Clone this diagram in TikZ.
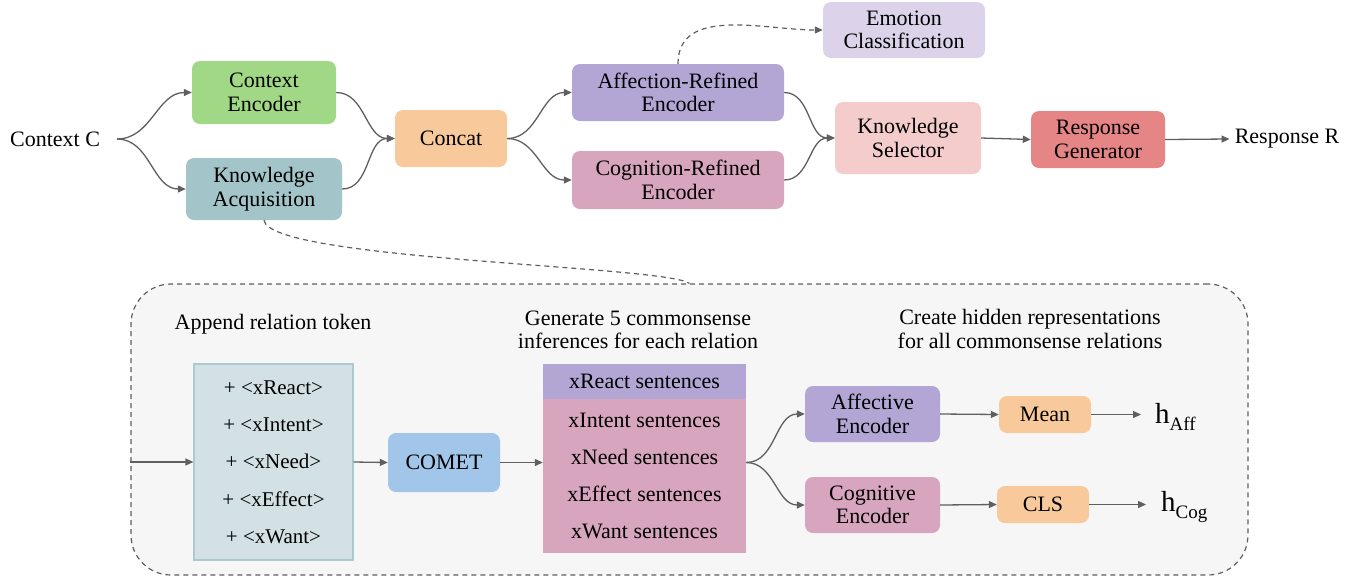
\documentclass[tikz,border=0pt]{standalone}
\usepackage{fontspec}
\setmainfont{Liberation Serif}
\usetikzlibrary{arrows.meta}
\definecolor{cgreen}{HTML}{A0D886}
\definecolor{cteal}{HTML}{A3C4C9}
\definecolor{corange}{HTML}{F8C99A}
\definecolor{cpurple}{HTML}{B3A6D5}
\definecolor{cpink}{HTML}{D8A5BF}
\definecolor{clav}{HTML}{DCD3EA}
\definecolor{clpink}{HTML}{F4CCCC}
\definecolor{cred}{HTML}{E58585}
\definecolor{cblue}{HTML}{A1C6EA}
\definecolor{crel}{HTML}{D3E1E4}
\definecolor{crelb}{HTML}{A9CBD0}
\definecolor{cbg}{HTML}{F6F6F6}
\definecolor{lc}{HTML}{5F5F5F}
\begin{document}
\begin{tikzpicture}[x=1pt,y=1pt,
  font=\fontsize{22}{23.5}\selectfont,
  box/.style={rounded corners=8pt, align=center, inner sep=0pt},
  arr/.style={draw=lc, line width=1.3pt, -{Triangle[length=8pt,width=7pt]}},
  dline/.style={draw=lc, line width=1.2pt, dash pattern=on 5pt off 4pt},
  lbl/.style={align=center, inner sep=0pt}]
\useasboundingbox (0,0) rectangle (1365,-582);

% top row
\node[lbl] (ctx) at (55,-139) {Context C};
\coordinate (c0) at (117,-139);
\node[box, fill=cgreen, minimum width=144pt, minimum height=63pt] (ce) at (264,-92.5) {Context\\Encoder};
\node[box, fill=cteal, minimum width=156pt, minimum height=62pt] (ka) at (264,-189) {Knowledge\\Acquisition};
\node[box, fill=corange, minimum width=112pt, minimum height=57pt] (cc) at (451,-138.5) {Concat};
\node[box, fill=cpurple, minimum width=212pt, minimum height=57pt] (are) at (678,-92.5) {Affection-Refined\\Encoder};
\node[box, fill=cpink, minimum width=212pt, minimum height=58pt] (cre) at (678,-180) {Cognition-Refined\\Encoder};
\node[box, fill=clav, minimum width=162pt, minimum height=56pt] (ec) at (904,-30) {Emotion\\Classification};
\node[box, fill=clpink, minimum width=146pt, minimum height=72pt] (ks) at (908,-138) {Knowledge\\Selector};
\node[box, fill=cred, minimum width=134pt, minimum height=57pt] (rg) at (1098,-139.5) {Response\\Generator};
\node[lbl, inner xsep=5pt] (rr) at (1287,-139) {Response R};

\draw[arr] (c0) to[out=0,in=180] (ce.west);
\draw[arr] (c0) to[out=0,in=180] (ka.west);
\draw[arr] (ce.east) to[out=0,in=180] (cc.west);
\draw[arr] (ka.east) to[out=0,in=180] (cc.west);
\draw[arr] (cc.east) to[out=0,in=180] (are.west);
\draw[arr] (cc.east) to[out=0,in=180] (cre.west);
\draw[arr] (are.east) to[out=0,in=180] (ks.west);
\draw[arr] (cre.east) to[out=0,in=180] (ks.west);
\draw[arr] (ks.east) -- (rg.west);
\draw[arr] (rg.east) -- (rr.west);
\draw[dline, -{Triangle[length=8pt,width=7pt]}] (are.north) to[out=90,in=180] (ec.west);

% knowledge box
\node[draw=lc, line width=1.2pt, dash pattern=on 5pt off 4pt, rounded corners=40pt, fill=cbg, minimum width=1117pt, minimum height=291pt, inner sep=0pt] (kb) at (689.5,-429.5) {};
\draw[dline] (ka.south) .. controls +(5,-40) and +(-25,18) .. (kb.north);

\node[lbl] (t1) at (273,-324) {Append relation token};
\node[lbl] (t2) at (638,-330) {Generate 5 commonsense\\inferences for each relation};
\node[lbl] (t3) at (1030,-329) {Create hidden representations\\for all commonsense relations};

\node[draw=crelb, line width=1.2pt, fill=crel, minimum width=159pt, minimum height=196pt, align=center, inner sep=0pt, font=\fontsize{21}{37.3}\selectfont] (rb) at (273.5,-462) {+ <xReact>\\+ <xIntent>\\+ <xNeed>\\+ <xEffect>\\+ <xWant>};
\node[box, fill=cblue, minimum width=112pt, minimum height=59pt] (cm) at (444,-462.5) {COMET};
\node[fill=cpurple, minimum width=203pt, minimum height=35pt, inner sep=0pt, font=\fontsize{22}{22}\selectfont] (xr) at (644.5,-381.5) {xReact sentences};
\node[fill=cpink, minimum width=203pt, minimum height=154pt, inner sep=0pt, align=center, font=\fontsize{22}{37}\selectfont] (xs) at (644.5,-476) {xIntent sentences\\xNeed sentences\\xEffect sentences\\xWant sentences};

\node[box, fill=cpurple, minimum width=135pt, minimum height=56pt] (ae) at (872.5,-414) {Affective\\Encoder};
\node[box, fill=cpink, minimum width=135pt, minimum height=56pt] (ge) at (872.5,-505) {Cognitive\\Encoder};
\node[box, fill=corange, minimum width=92pt, minimum height=37pt] (mn) at (1045,-414.5) {Mean};
\node[box, fill=corange, minimum width=92pt, minimum height=37pt] (cl) at (1043,-504.5) {CLS};
\node[anchor=west, inner sep=0pt] (ha) at (1155,-417) {{\fontsize{29}{29}\selectfont h}\raisebox{-7pt}{\fontsize{19}{19}\selectfont Aff}};
\node[anchor=west, inner sep=0pt] (hc) at (1161,-507) {{\fontsize{29}{29}\selectfont h}\raisebox{-7pt}{\fontsize{19}{19}\selectfont Cog}};

\draw[arr] (kb.west |- rb.west) -- (rb.west);
\draw[arr] (rb.east) -- (cm.west);
\draw[arr] (cm.east) -- (cm.east -| xs.west);
\coordinate (sx) at (xs.east |- cm.east);
\draw[arr] (sx) to[out=0,in=180] (ae.west);
\draw[arr] (sx) to[out=0,in=180] (ge.west);
\draw[arr] (ae.east) -- (mn.west);
\draw[arr] (ge.east) -- (cl.west);
\draw[arr, shorten >=14pt] (mn.east) -- (mn.east -| ha.west);
\draw[arr, shorten >=15pt] (cl.east) -- (cl.east -| hc.west);
\end{tikzpicture}
\end{document}
